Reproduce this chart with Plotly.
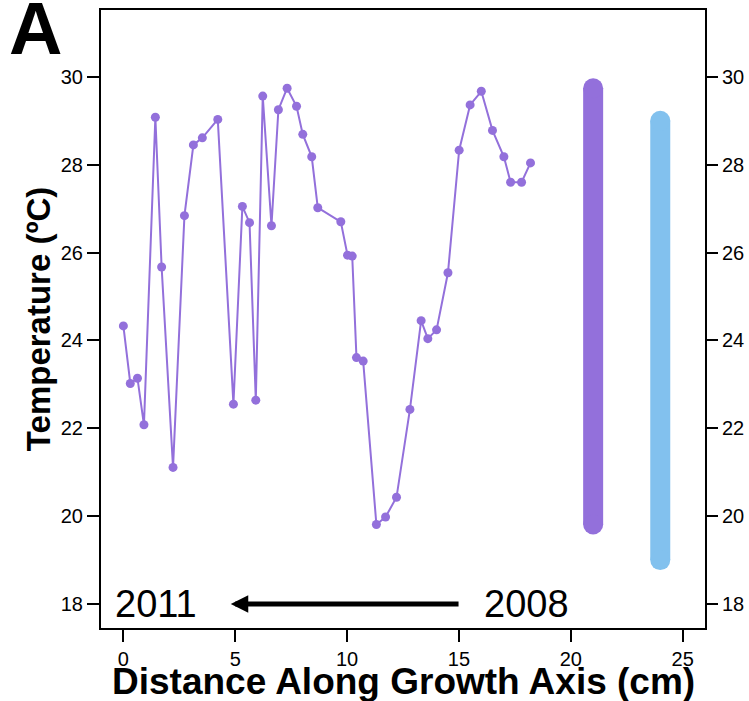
import plotly.graph_objects as go

# Data: distance along growth axis (cm) and reconstructed temperature (ºC)
distance = [0.0, 0.31, 0.63, 0.92, 1.43, 1.71, 2.22, 2.73, 3.13, 3.53, 4.22,
            4.92, 5.32, 5.64, 5.92, 6.23, 6.62, 6.93, 7.32, 7.74, 8.02, 8.42,
            8.69, 9.72, 10.02, 10.23, 10.42, 10.72, 11.31, 11.72, 12.21, 12.81,
            13.31, 13.61, 14.0, 14.51, 15.01, 15.50, 16.0, 16.50, 17.01, 17.31,
            17.80, 18.20]
temperature = [24.33, 23.02, 23.14, 22.08, 29.08, 25.67, 21.11, 26.84, 28.45, 28.61, 29.03,
               22.55, 27.05, 26.68, 22.64, 29.56, 26.61, 29.25, 29.74, 29.33, 28.69, 28.18,
               27.02, 26.70, 25.94, 25.92, 23.61, 23.53, 19.81, 19.98, 20.43, 22.43,
               24.45, 24.04, 24.24, 25.54, 28.33, 29.36, 29.67, 28.78, 28.18, 27.60,
               27.60, 28.04]

# Range bars
range_x = [21, 24]
range_low = [19.81, 19.0]
range_high = [29.74, 29.0]
range_colors = ["#9370DB", "#82C1EE"]

x_ticks = [0, 5, 10, 15, 20, 25]
y_ticks = [18, 20, 22, 24, 26, 28, 30]

purple = "#9370DB"
FONT = "Liberation Sans, Arial, sans-serif"

fig = go.Figure()

fig.add_trace(go.Scatter(
    x=distance, y=temperature, mode="lines+markers",
    line=dict(color=purple, width=2),
    marker=dict(color=purple, size=9),
    showlegend=False, hoverinfo="skip"))

for xv, lo, hi, col in zip(range_x, range_low, range_high, range_colors):
    fig.add_trace(go.Scatter(
        x=[xv, xv], y=[lo, hi], mode="lines+markers",
        line=dict(color=col, width=20),
        marker=dict(color=col, size=20),
        showlegend=False, hoverinfo="skip"))

# invisible trace for right axis
fig.add_trace(go.Scatter(x=[distance[0]], y=[temperature[0]], yaxis="y2",
                         mode="markers", marker=dict(opacity=0),
                         showlegend=False, hoverinfo="skip"))

axis_common = dict(ticks="outside", ticklen=12, tickwidth=2, tickcolor="black",
                   showgrid=False, zeroline=False, automargin=False,
                   tickfont=dict(size=20, family=FONT, color="black"))

fig.update_layout(
    width=749, height=701,
    margin=dict(l=101, r=44, t=10, b=73),
    paper_bgcolor="white", plot_bgcolor="white",
    font=dict(family=FONT, color="black"),
    xaxis=dict(range=[-1, 26], tickvals=x_ticks, showline=True, linewidth=2,
               linecolor="black", mirror=True, **axis_common),
    yaxis=dict(range=[17.455, 31.52], tickvals=y_ticks, showline=True, linewidth=2,
               linecolor="black", mirror=True, **axis_common),
    yaxis2=dict(range=[17.455, 31.52], tickvals=y_ticks, overlaying="y", side="right",
                showline=False, **axis_common),
)

annotations = [
    dict(text="<b>Distance Along Growth Axis (cm)</b>", xref="paper", yref="paper",
         x=0.5, y=-0.087, xanchor="center", yanchor="middle", showarrow=False,
         font=dict(size=37, family=FONT)),
    dict(text="<b>Temperature (ºC)</b>", xref="paper", yref="paper",
         x=-0.104, y=0.5, xanchor="center", yanchor="middle", textangle=-90,
         showarrow=False, font=dict(size=33, family=FONT)),
    dict(text="<b>A</b>", xref="paper", yref="paper", x=-0.156, y=1.04,
         xanchor="left", yanchor="top", showarrow=False,
         font=dict(size=74, family=FONT)),
    dict(text="2011", x=1.45, y=18, xref="x", yref="y", showarrow=False,
         font=dict(size=38, family=FONT)),
    dict(text="2008", x=18.0, y=18, xref="x", yref="y", showarrow=False,
         font=dict(size=38, family=FONT)),
    dict(text="", x=4.8, y=18, ax=15.05, ay=18, xref="x", yref="y",
         axref="x", ayref="y", showarrow=True, arrowhead=2, arrowsize=0.7,
         arrowwidth=5, arrowcolor="black", standoff=0, startstandoff=0),
]
fig.update_layout(annotations=annotations)

fig.write_html("out.html", config={"displayModeBar": False},
               post_script="document.body.style.margin='0';document.body.style.overflow='hidden';")
